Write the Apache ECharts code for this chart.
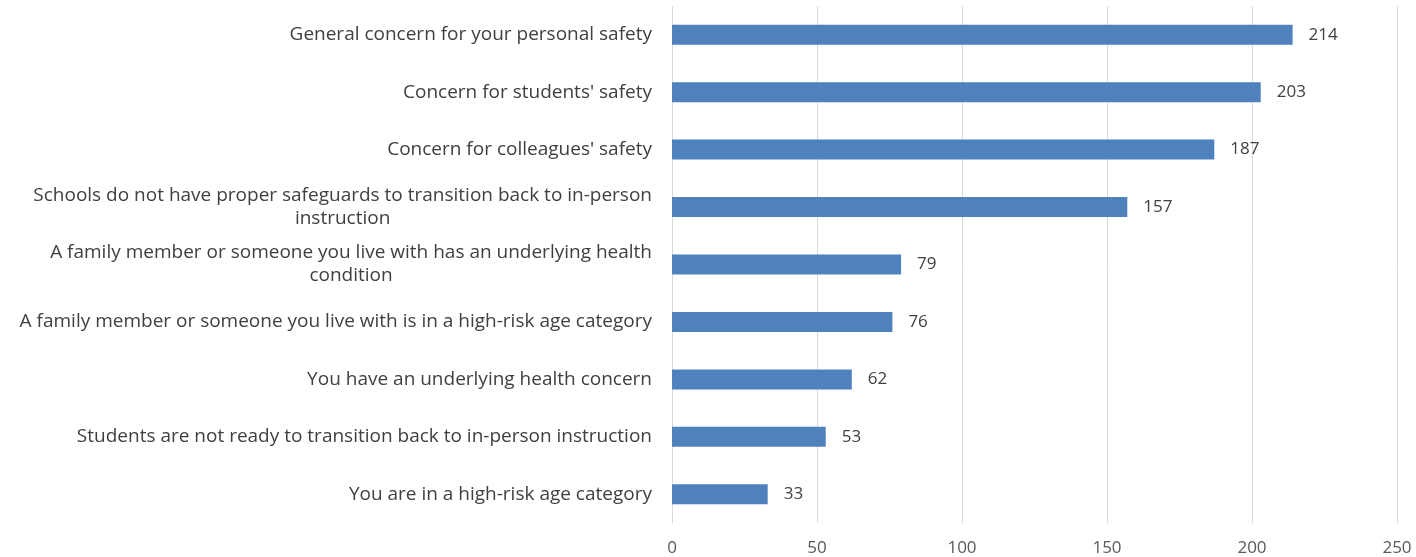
<!DOCTYPE html>
<html><head><meta charset="utf-8">
<script src="https://cdn.jsdelivr.net/npm/echarts@6/dist/echarts.min.js"></script>
<style>html,body{margin:0;padding:0;background:#fff}#c{width:1416px;height:557px}</style>
</head><body><div id="c"></div>
<script>
const categories = [
  "General concern for your personal safety",
  "Concern for students' safety",
  "Concern for colleagues' safety",
  "Schools do not have proper safeguards to transition back to in-person\ninstruction",
  "A family member or someone you live with has an underlying health\ncondition",
  "A family member or someone you live with is in a high-risk age category",
  "You have an underlying health concern",
  "Students are not ready to transition back to in-person instruction",
  "You are in a high-risk age category"
];
const values = [214, 203, 187, 157, 79, 76, 62, 53, 33];
const xTicks = [0, 50, 100, 150, 200, 250];

const font = "'Open Sans', sans-serif";
const chart = echarts.init(document.getElementById('c'));
chart.setOption({
  animation: false,
  grid: {left: 672, right: 19, top: 6, bottom: 34, containLabel: false},
  xAxis: {
    type: 'value', min: xTicks[0], max: xTicks[xTicks.length-1], interval: 50,
    axisLine: {show: false}, axisTick: {show: false},
    splitLine: {lineStyle: {color: '#d9d9d9', width: 1}},
    axisLabel: {color: '#595959', fontSize: 17, fontFamily: font, margin: 17}
  },
  yAxis: {
    type: 'category', data: categories, inverse: true,
    axisLine: {show: false}, axisTick: {show: false},
    axisLabel: {color: '#404040', fontSize: 19, fontFamily: font, margin: 20, align: 'right', lineHeight: 23,
      formatter: function (v) {
        if (v.indexOf('\n') < 0) return v;
        return v.split('\n').map(function (l) { return '{c|' + l + '}'; }).join('\n');
      },
      rich: {c: {align: 'center', color: '#404040', fontSize: 19, fontFamily: font, lineHeight: 23}}
    }
  },
  series: [{
    type: 'bar', data: values, barWidth: 20,
    itemStyle: {color: '#4f81bd'},
    label: {show: true, position: 'right', distance: 16, color: '#404040', fontSize: 17, fontFamily: font}
  }]
});
</script></body></html>
